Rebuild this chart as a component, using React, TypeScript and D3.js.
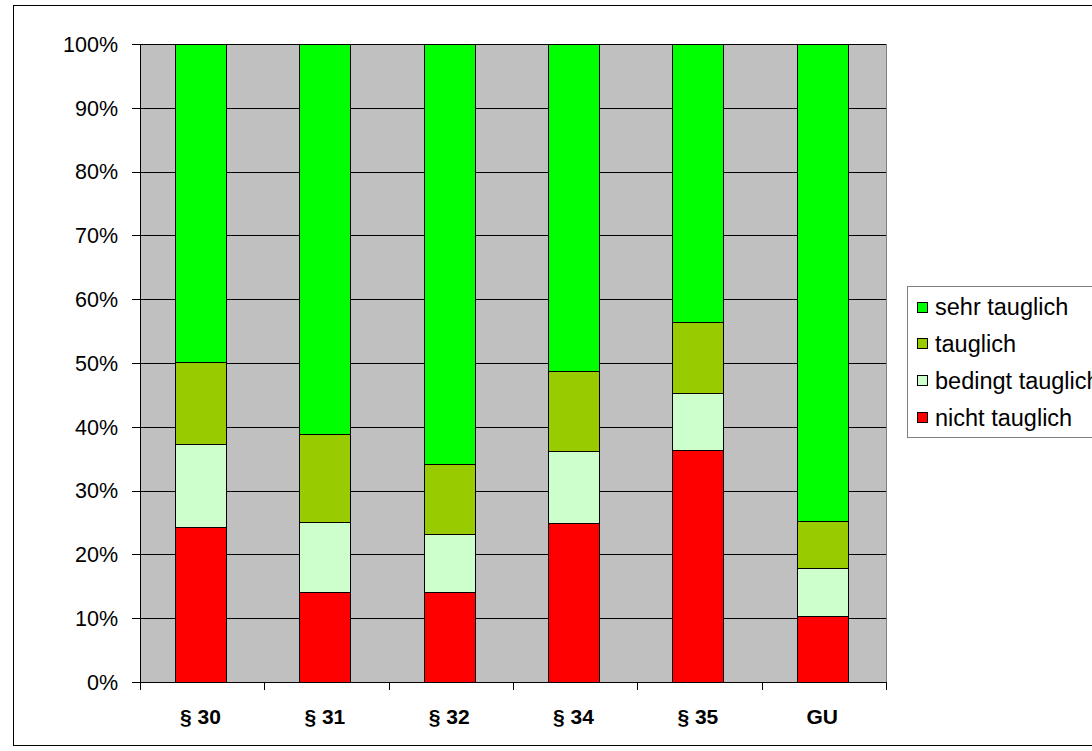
import * as d3 from "d3";

const WIDTH = 1092;
const HEIGHT = 751;
const PLOT = { left: 140, right: 886, top: 44, bottom: 682 };

const categories = ["§ 30", "§ 31", "§ 32", "§ 34", "§ 35", "GU"];
const nichtTauglich = [24.3, 14.1, 14.1, 24.9, 36.3, 10.4];
const bedingtTauglich = [13.0, 11.0, 9.1, 11.3, 9.0, 7.4];
const tauglich = [12.9, 13.7, 11.0, 12.5, 11.1, 7.4];
const sehrTauglich = [49.8, 61.2, 65.8, 51.3, 43.6, 74.8];
const yTicks = [0, 10, 20, 30, 40, 50, 60, 70, 80, 90, 100];

const series = [
  { name: "nicht tauglich", values: nichtTauglich, color: "#FF0000" },
  { name: "bedingt tauglich", values: bedingtTauglich, color: "#CCFFCC" },
  { name: "tauglich", values: tauglich, color: "#99CC00" },
  { name: "sehr tauglich", values: sehrTauglich, color: "#00FF00" },
];

const FONT = "'Liberation Sans', Arial, sans-serif";

export default function App() {
  const x = d3
    .scaleBand<string>()
    .domain(categories)
    .range([PLOT.left, PLOT.right])
    .paddingInner(0.59)
    .paddingOuter(0.295)
    .align(0.477);

  const y = d3.scaleLinear().domain([0, 100]).range([PLOT.bottom, PLOT.top]);

  const rows = categories.map((c, i) => {
    const row: Record<string, number | string> = { cat: c };
    series.forEach((s) => (row[s.name] = s.values[i]));
    return row;
  });
  const stacked = d3
    .stack<Record<string, number | string>>()
    .keys(series.map((s) => s.name))
    .offset(d3.stackOffsetExpand)(rows);

  const step = (PLOT.right - PLOT.left) / categories.length;
  const xTicks = d3.range(categories.length + 1).map((i) => PLOT.left + i * step);

  const legendItems = [...series].reverse();

  return (
    <svg
      width={WIDTH}
      height={HEIGHT}
      style={{ position: "absolute", left: 0, top: 0, background: "#fff" }}
      fontFamily={FONT}
    >
      <rect x={13.5} y={5.5} width={1100} height={740} fill="#fff" stroke="#000" />

      <rect
        x={PLOT.left}
        y={PLOT.top}
        width={PLOT.right - PLOT.left}
        height={PLOT.bottom - PLOT.top}
        fill="#C0C0C0"
      />
      <line
        x1={PLOT.right + 0.5}
        x2={PLOT.right + 0.5}
        y1={PLOT.top}
        y2={PLOT.bottom}
        stroke="#808080"
      />

      {yTicks.slice(1).map((t) => (
        <line
          key={"g" + t}
          x1={PLOT.left}
          x2={PLOT.right}
          y1={Math.round(y(t)) + 0.5}
          y2={Math.round(y(t)) + 0.5}
          stroke="#000"
        />
      ))}

      {stacked.map((layer, li) => (
        <g key={layer.key} fill={series[li].color} stroke="#000" strokeWidth={1}>
          {layer.map((d, i) => (
            <rect
              key={i}
              x={Math.round(x(categories[i])!) + 0.5}
              width={Math.round(x.bandwidth())}
              y={Math.round(y(d[1] * 100)) + 0.5}
              height={Math.round(y(d[0] * 100)) - Math.round(y(d[1] * 100))}
            />
          ))}
        </g>
      ))}

      {/* y axis */}
      <line
        x1={PLOT.left + 0.5}
        x2={PLOT.left + 0.5}
        y1={PLOT.top}
        y2={PLOT.bottom}
        stroke="#000"
      />
      {yTicks.map((t) => (
        <g key={"y" + t}>
          <line
            x1={PLOT.left - 8}
            x2={PLOT.left}
            y1={Math.round(y(t)) + 0.5}
            y2={Math.round(y(t)) + 0.5}
            stroke="#000"
          />
          <text
            x={PLOT.left - 22}
            y={y(t)}
            dy="0.36em"
            textAnchor="end"
            fontSize={21.5}
            fill="#000"
          >
            {t}%
          </text>
        </g>
      ))}

      {/* x axis */}
      <line
        x1={PLOT.left}
        x2={PLOT.right + 1}
        y1={PLOT.bottom + 0.5}
        y2={PLOT.bottom + 0.5}
        stroke="#000"
      />
      {xTicks.map((t, i) => (
        <line
          key={"xt" + i}
          x1={Math.round(t) + 0.5}
          x2={Math.round(t) + 0.5}
          y1={PLOT.bottom}
          y2={PLOT.bottom + 8}
          stroke="#000"
        />
      ))}
      {categories.map((c) => (
        <text
          key={c}
          x={x(c)! + x.bandwidth() / 2}
          y={724}
          textAnchor="middle"
          fontSize={21}
          fontWeight="bold"
          fill="#000"
        >
          {c}
        </text>
      ))}

      {/* legend */}
      <rect x={907.5} y={286.5} width={200} height={151} fill="#fff" stroke="#808080" />
      {legendItems.map((s, i) => {
        const cy = 307 + i * 36.7;
        return (
          <g key={s.name}>
            <rect
              x={917.5}
              y={Math.round(cy - 5.5) + 0.5}
              width={10}
              height={10}
              fill={s.color}
              stroke="#000"
            />
            <text x={935} y={cy} dy="0.36em" fontSize={23.5} fill="#000">
              {s.name}
            </text>
          </g>
        );
      })}
    </svg>
  );
}
